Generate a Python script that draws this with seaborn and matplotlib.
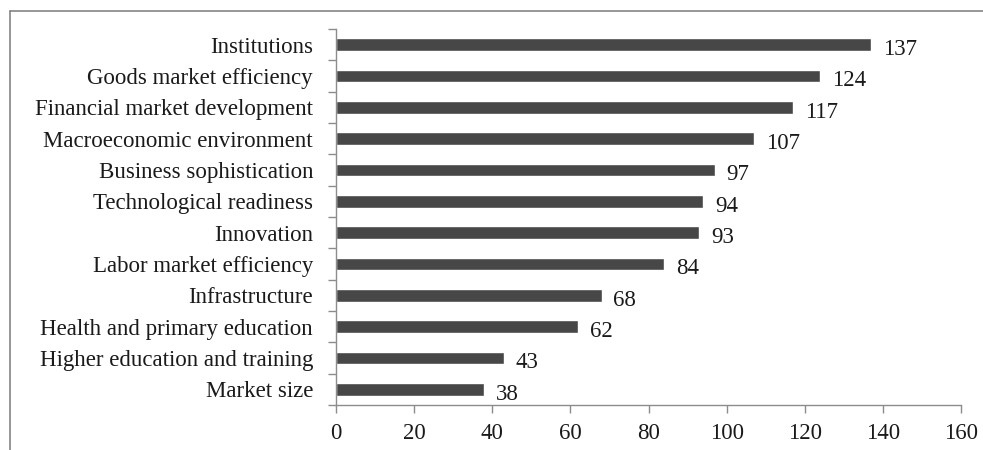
import matplotlib
matplotlib.use("Agg")
import matplotlib.pyplot as plt
import numpy as np
import pandas as pd
import seaborn as sns
from matplotlib.lines import Line2D

pillars = [
    "Institutions", "Goods market efficiency", "Financial market development",
    "Macroeconomic environment", "Business sophistication", "Technological readiness",
    "Innovation", "Labor market efficiency", "Infrastructure",
    "Health and primary education", "Higher education and training", "Market size",
]
ranks = [137, 124, 117, 107, 97, 94, 93, 84, 68, 62, 43, 38]
xticks = [0, 20, 40, 60, 80, 100, 120, 140, 160]

sns.set_style("white")
plt.rcParams["font.family"] = ["Liberation Serif", "DejaVu Serif"]

df = pd.DataFrame({"pillar": pillars, "rank": ranks})

fig = plt.figure(figsize=(9.83, 4.5), dpi=100)
ax = fig.add_axes([336 / 983, 45 / 450, 625 / 983, 376 / 450])

sns.barplot(data=df, x="rank", y="pillar", orient="h", color="#474747",
            width=0.41, saturation=1, ax=ax)

for i, v in enumerate(ranks):
    ax.text(v + 3.0, i + 0.15, str(v), va="center", ha="left", fontsize=16.5, color="#1a1a1a")

ax.set_xlim(0, 160)
ax.set_ylim(len(pillars) - 0.5, -0.5)
ax.set_xticks(xticks)
ax.set_xlabel("")
ax.set_ylabel("")

grey = "#8c8c8c"
for side in ["top", "right"]:
    ax.spines[side].set_visible(False)
for side in ["left", "bottom"]:
    ax.spines[side].set_color(grey)
    ax.spines[side].set_linewidth(1.0)

ax.set_yticks(np.arange(-0.5, len(pillars)), minor=True)
ax.tick_params(axis="y", which="major", left=True, length=0, pad=16.5,
               labelsize=16.5, labelcolor="#1a1a1a")
ax.tick_params(axis="y", which="minor", left=True, length=5.8, width=1.0,
               color=grey, direction="out")
ax.tick_params(axis="x", which="major", bottom=True, length=5.8, width=1.0, color=grey,
               direction="out", pad=7, labelsize=16.5, labelcolor="#1a1a1a")

# outer frame (left and top edges only)
fig.add_artist(Line2D([9.5 / 983, 9.5 / 983], [0, 1 - 10.5 / 450], color="#7a7a7a", lw=1.1))
fig.add_artist(Line2D([9.5 / 983, 1], [1 - 10.5 / 450, 1 - 10.5 / 450], color="#7a7a7a", lw=1.1))

fig.savefig("out.png", dpi=100)
plt.close(fig)
